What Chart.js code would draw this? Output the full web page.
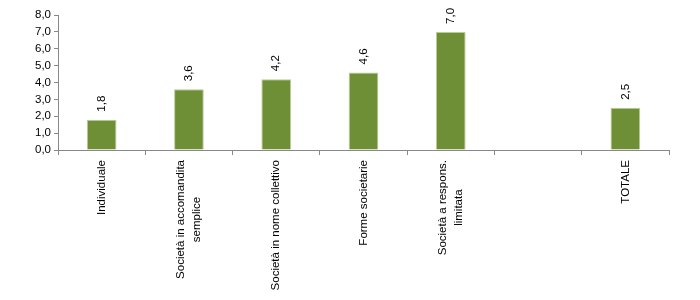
<!DOCTYPE html>
<html lang="it">
<head>
    <meta charset="UTF-8">
    <title>Forme giuridiche</title>
    <script src="https://cdn.jsdelivr.net/npm/chart.js"></script>
    <style>
        body { margin: 0; background: #fff; }
        #wrap { width: 700px; height: 300px; }
    </style>
</head>
<body>
    <div id="wrap"><canvas id="chart"></canvas></div>
    <script>
        const categories = [
            'Individuale',
            ['Società in accomandita', 'semplice'],
            'Società in nome collettivo',
            'Forme societarie',
            ['Società a respons.', 'limitata'],
            '',
            'TOTALE'
        ];
        const values = [1.8, 3.6, 4.2, 4.6, 7.0, null, 2.5];
        const yTicks = [0, 1, 2, 3, 4, 5, 6, 7, 8];

        const fmt = v => v.toFixed(1).replace('.', ',');
        const FONT = '11.5px "Liberation Sans", Arial, sans-serif';

        // value labels written vertically above each bar
        const barLabels = {
            id: 'barLabels',
            afterDatasetsDraw(chart) {
                const ctx = chart.ctx;
                const meta = chart.getDatasetMeta(0);
                ctx.save();
                ctx.font = FONT;
                ctx.fillStyle = '#000';
                ctx.textAlign = 'left';
                ctx.textBaseline = 'middle';
                meta.data.forEach((bar, i) => {
                    if (values[i] === null) return;
                    ctx.save();
                    ctx.translate(bar.x, bar.y - 8);
                    ctx.rotate(-Math.PI / 2);
                    ctx.fillText(fmt(values[i]), 0, 0);
                    ctx.restore();
                });
                ctx.restore();
            }
        };

        // category labels, rotated, lines centred on each other
        const catLabels = {
            id: 'catLabels',
            afterDraw(chart) {
                const ctx = chart.ctx;
                const xs = chart.scales.x;
                const lineH = 15.5;
                ctx.save();
                ctx.font = FONT;
                ctx.fillStyle = '#000';
                ctx.textAlign = 'center';
                ctx.textBaseline = 'middle';
                categories.forEach((lab, i) => {
                    const lines = Array.isArray(lab) ? lab : [lab];
                    if (!lines[0]) return;
                    const w = Math.max(...lines.map(l => ctx.measureText(l).width));
                    ctx.save();
                    ctx.translate(xs.getPixelForTick(i), xs.top + 10);
                    ctx.rotate(-Math.PI / 2);
                    lines.forEach((l, k) => {
                        ctx.fillText(l, -w / 2, (k - (lines.length - 1) / 2) * lineH);
                    });
                    ctx.restore();
                });
                ctx.restore();
            }
        };

        new Chart(document.getElementById('chart'), {
            type: 'bar',
            data: {
                labels: categories,
                datasets: [{
                    data: values,
                    backgroundColor: '#6f8f36',
                    borderColor: '#b9cc95',
                    borderWidth: { top: 1, left: 1, right: 1, bottom: 0 },
                    barPercentage: 0.34,
                    categoryPercentage: 1
                }]
            },
            options: {
                responsive: true,
                maintainAspectRatio: false,
                animation: false,
                layout: { padding: { top: 15, right: 31, left: 0, bottom: 0 } },
                plugins: {
                    legend: { display: false },
                    tooltip: { enabled: false }
                },
                scales: {
                    x: {
                        offset: true,
                        grid: {
                            offset: true,
                            drawOnChartArea: false,
                            tickLength: 5,
                            color: '#888'
                        },
                        border: { color: '#888' },
                        ticks: { display: false, autoSkip: false },
                        afterFit(scale) { scale.height = 150; }
                    },
                    y: {
                        min: 0,
                        max: 8,
                        afterBuildTicks(scale) {
                            scale.ticks = yTicks.map(v => ({ value: v }));
                        },
                        grid: {
                            drawOnChartArea: false,
                            tickLength: 4,
                            color: '#888'
                        },
                        border: { color: '#888' },
                        ticks: {
                            color: '#000',
                            font: { family: '"Liberation Sans", Arial, sans-serif', size: 11.5 },
                            padding: 3,
                            callback: v => fmt(v)
                        },
                        afterFit(scale) { scale.width = 58; }
                    }
                }
            },
            plugins: [barLabels, catLabels]
        });
    </script>
</body>
</html>
